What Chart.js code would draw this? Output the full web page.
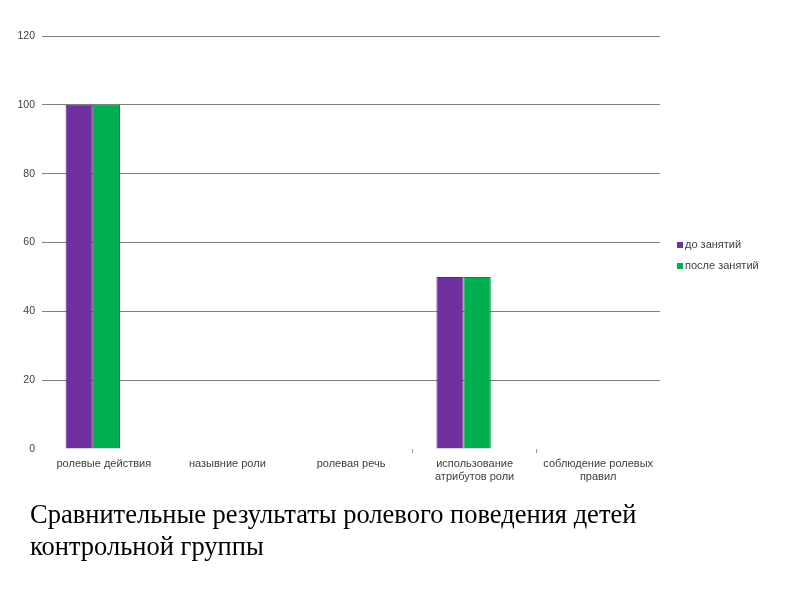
<!DOCTYPE html>
<html lang="ru">
<head>
<meta charset="UTF-8">
<title>Сравнительные результаты</title>
<style>
  * { margin: 0; padding: 0; box-sizing: border-box; }
  body { width: 800px; height: 600px; background: #fff; position: relative; overflow: hidden; }
  #wrap { position: absolute; left: 0; top: 0; width: 800px; height: 500px; }
  .caption { position: absolute; left: 30px; top: 498px; width: 660px; font-family: "Liberation Serif", "DejaVu Serif", serif; font-size: 26.5px; line-height: 32px; color: #000; }
</style>
</head>
<body>
<div id="wrap"><canvas id="chart"></canvas></div>
<div class="caption">Сравнительные результаты ролевого поведения детей контрольной группы</div>
<script src="https://cdn.jsdelivr.net/npm/chart.js@4.4.0/dist/chart.umd.min.js"></script>
<script>
// ── Data ─────────────────────────────────────────────────────────────
const categories = [
  "ролевые действия",
  "назывние роли",
  "ролевая речь",
  ["использование", "атрибутов роли"],
  ["соблюдение ролевых", "правил"]
];
const seriesNames = ["до занятий", "после занятий"];
const beforeValues = [100, 0, 0, 50, 0];
const afterValues = [100, 0, 0, 50, 0];
const yTicks = [0, 20, 40, 60, 80, 100, 120];

const colors = ["#7030A0", "#00B050"];
const borders = ["#5a2480", "#00903f"];
const labelFont = "'Liberation Sans', Arial, sans-serif";

// ── Bars sit a little left of the category centre, as in the original ──
const barShift = {
  id: "barShift",
  beforeDatasetsDraw(chart) { chart.ctx.save(); chart.ctx.translate(-11, 0); },
  afterDatasetsDraw(chart) { chart.ctx.restore(); }
};

// ── Legend drawn by hand at right ─────────────────────────────────────
const sideLegend = {
  id: "sideLegend",
  afterDraw(chart) {
    const { ctx } = chart;
    ctx.save();
    ctx.font = "11px " + labelFont;
    ctx.textBaseline = "middle";
    chart.data.datasets.forEach((ds, i) => {
      const y = 245 + i * 21;
      ctx.fillStyle = ds.backgroundColor;
      ctx.fillRect(677, y - 3, 6, 6);
      ctx.fillStyle = "#404040";
      ctx.fillText(ds.label, 685, y);
    });
    ctx.restore();
  }
};

new Chart(document.getElementById("chart"), {
  type: "bar",
  data: {
    labels: categories,
    datasets: [
      { label: seriesNames[0], data: beforeValues, backgroundColor: colors[0], borderColor: borders[0], borderWidth: 1 },
      { label: seriesNames[1], data: afterValues, backgroundColor: colors[1], borderColor: borders[1], borderWidth: 1 }
    ]
  },
  options: {
    responsive: true,
    maintainAspectRatio: false,
    animation: false,
    layout: { padding: { top: 36, right: 140, left: 0, bottom: 0 } },
    plugins: { legend: { display: false }, tooltip: { enabled: false } },
    datasets: { bar: { categoryPercentage: 0.44, barPercentage: 1 } },
    scales: {
      x: {
        grid: {
          offset: true,
          drawOnChartArea: false,
          tickLength: 4,
          color: (c) => (c.index === 3 || c.index === 4 ? "#999" : "rgba(0,0,0,0)")
        },
        border: { display: false },
        ticks: {
          color: "#404040",
          font: { family: labelFont, size: 11 },
          maxRotation: 0,
          autoSkip: false,
          padding: 4
        },
        afterFit: (s) => { s.height = 51; }
      },
      y: {
        min: 0,
        max: 120,
        afterBuildTicks: (s) => { s.ticks = yTicks.map((v) => ({ value: v })); },
        grid: {
          drawTicks: false,
          color: (c) => (c.tick && c.tick.value === 0 ? "rgba(0,0,0,0)" : "#808080"),
          lineWidth: 1
        },
        border: { display: false },
        ticks: {
          color: "#404040",
          font: { family: labelFont, size: 10.5 },
          padding: 7
        },
        afterFit: (s) => { s.width = 42; }
      }
    }
  },
  plugins: [barShift, sideLegend]
});
</script>
</body>
</html>
